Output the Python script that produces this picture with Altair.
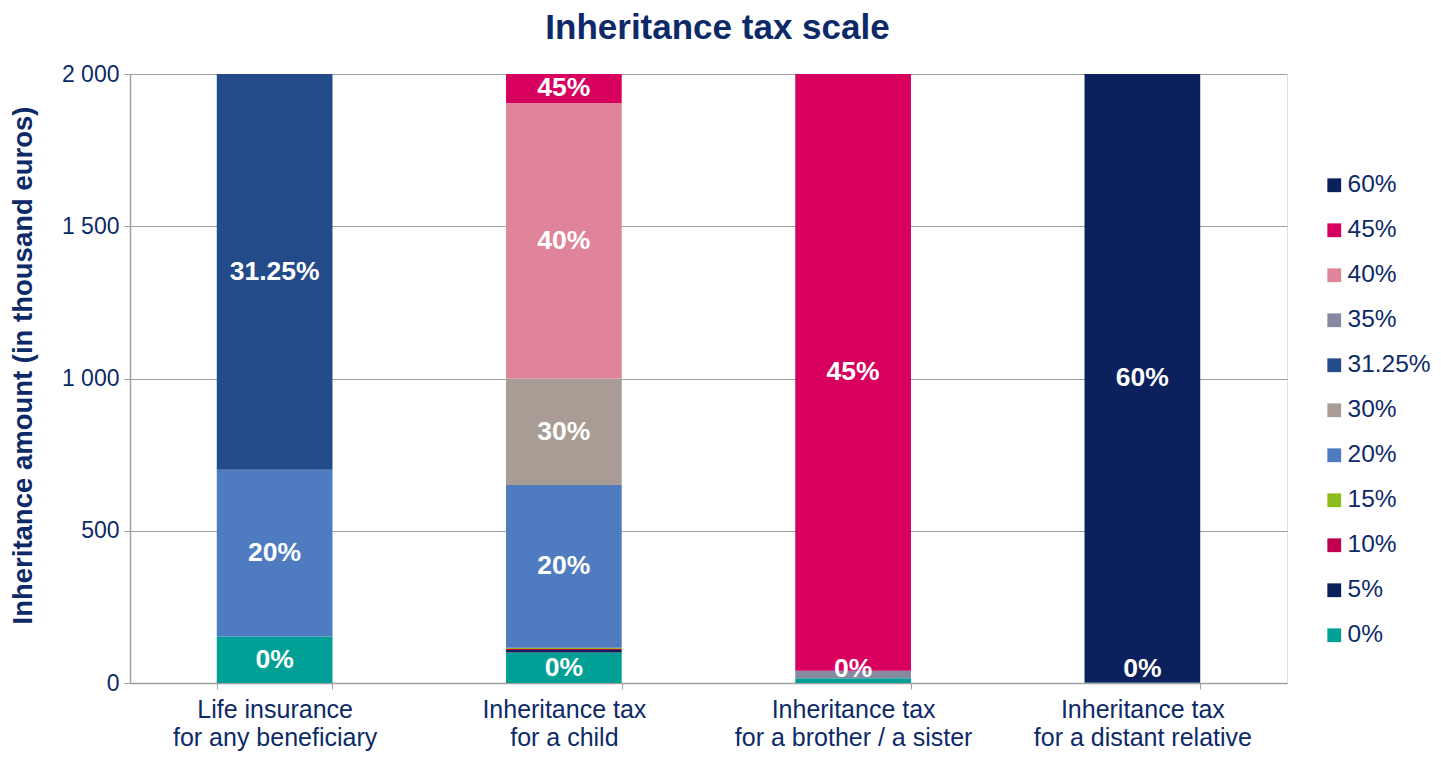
import altair as alt
import pandas as pd

NAVY = "#0d2a68"
GRID = "#a0a0a0"
FONT = "Liberation Sans"

categories = [
    "Life insurance|for any beneficiary",
    "Inheritance tax|for a child",
    "Inheritance tax|for a brother / a sister",
    "Inheritance tax|for a distant relative",
]
rates = ["0%", "5%", "10%", "15%", "20%", "30%", "31.25%", "35%", "40%", "45%", "60%"]
rate_colors = ["#00a096", "#0b1f5c", "#c0004f", "#8cbc1c", "#4f7bc0", "#a89c94",
               "#234b8a", "#868aa0", "#e0849a", "#d7005f", "#0a215e"]

# amounts (thousand euros) per rate band, in the order of `rates`
life_insurance = [152.5, 0, 0, 0, 547.5, 0, 1300, 0, 0, 0, 0]
child = [100, 8, 4, 4, 534, 350, 0, 0, 905, 95, 0]
sibling = [16, 0, 0, 0, 0, 0, 0, 24, 0, 1960, 0]
distant = [1.6, 0, 0, 0, 0, 0, 0, 0, 0, 0, 1998.4]

# which bands carry a label
labels_life = ["0%", "20%", "31.25%"]
labels_child = ["0%", "20%", "30%", "40%", "45%"]
labels_sibling = ["0%", "45%"]
labels_distant = ["0%", "60%"]

rows = []
for cat, vals, labs in zip(categories,
                           [life_insurance, child, sibling, distant],
                           [labels_life, labels_child, labels_sibling, labels_distant]):
    for i, (r, v) in enumerate(zip(rates, vals)):
        if v > 0:
            rows.append({"category": cat, "rate": r, "amount": v, "order": i,
                         "show": 1 if r in labs else 0})
df = pd.DataFrame(rows)

legend_order = list(reversed(rates))
legend_colors = list(reversed(rate_colors))

x_enc = alt.X(
    "category:N", sort=categories, title=None,
    scale=alt.Scale(paddingInner=0.6, paddingOuter=0.3),
    axis=alt.Axis(labelExpr="split(datum.label, '|')", labelAngle=0,
                  labelFontSize=25, labelColor=NAVY, labelFont=FONT,
                  labelLineHeight=28.5, labelPadding=8, tickBand="extent",
                  labelLimit=500, tickSize=6, tickColor=GRID, domainColor=GRID,
                  domainWidth=1.5, labelBaseline="top"),
)

bars = alt.Chart(df).mark_bar().encode(
    x=x_enc,
    y=alt.Y("sum(amount):Q", stack="zero",
            scale=alt.Scale(domain=[0, 2000], nice=False),
            title="Inheritance amount (in thousand euros)",
            axis=alt.Axis(values=[0, 500, 1000, 1500, 2000],
                          labelExpr="replace(format(datum.value, ','), ',', ' ')",
                          labelFontSize=23, labelColor=NAVY, labelFont=FONT,
                          labelPadding=5, tickSize=6, tickColor=GRID,
                          domainColor=GRID, domainWidth=1.5, gridColor=GRID,
                          gridWidth=1.2, titleFontSize=27.5, titleColor=NAVY,
                          titleFont=FONT, titleFontWeight="bold",
                          titleX=-93, titleY=291, titleAngle=270,
                          titleBaseline="bottom", titleAlign="center")),
    color=alt.Color("rate:N", scale=alt.Scale(domain=legend_order, range=legend_colors),
                    legend=alt.Legend(title=None, orient="none", legendX=1192, legendY=99,
                                      symbolType="square", symbolSize=190,
                                      symbolStrokeWidth=0, labelFontSize=24.5,
                                      labelColor=NAVY, labelFont=FONT,
                                      rowPadding=20, labelOffset=1)),
    order=alt.Order("order:Q", sort="ascending"),
)

text = alt.Chart(df).transform_stack(
    stack="amount", groupby=["category"], as_=["y0", "y1"],
    sort=[alt.SortField("order", order="ascending")],
).transform_filter("datum.show == 1").transform_calculate(
    mid="max((datum.y0 + datum.y1) / 2, 45)"
).mark_text(color="white", fontSize=26.5, fontWeight="bold", font=FONT,
            baseline="middle").encode(
    x=alt.X("category:N", sort=categories),
    y=alt.Y("mid:Q"),
    text="rate:N",
)

chart = alt.layer(bars, text).properties(
    width=1157, height=609,
    padding={"left": 122, "top": 66, "right": 146, "bottom": 70},
    autosize=alt.AutoSizeParams(type="none"),
    title=alt.TitleParams("Inheritance tax scale", fontSize=35, fontWeight="bold",
                          color=NAVY, font=FONT, anchor="middle", dx=9,
                          offset=17),
).configure_view(stroke=None).configure(background="white")

chart.save("out.html", embed_options={"renderer": "svg", "actions": False})
